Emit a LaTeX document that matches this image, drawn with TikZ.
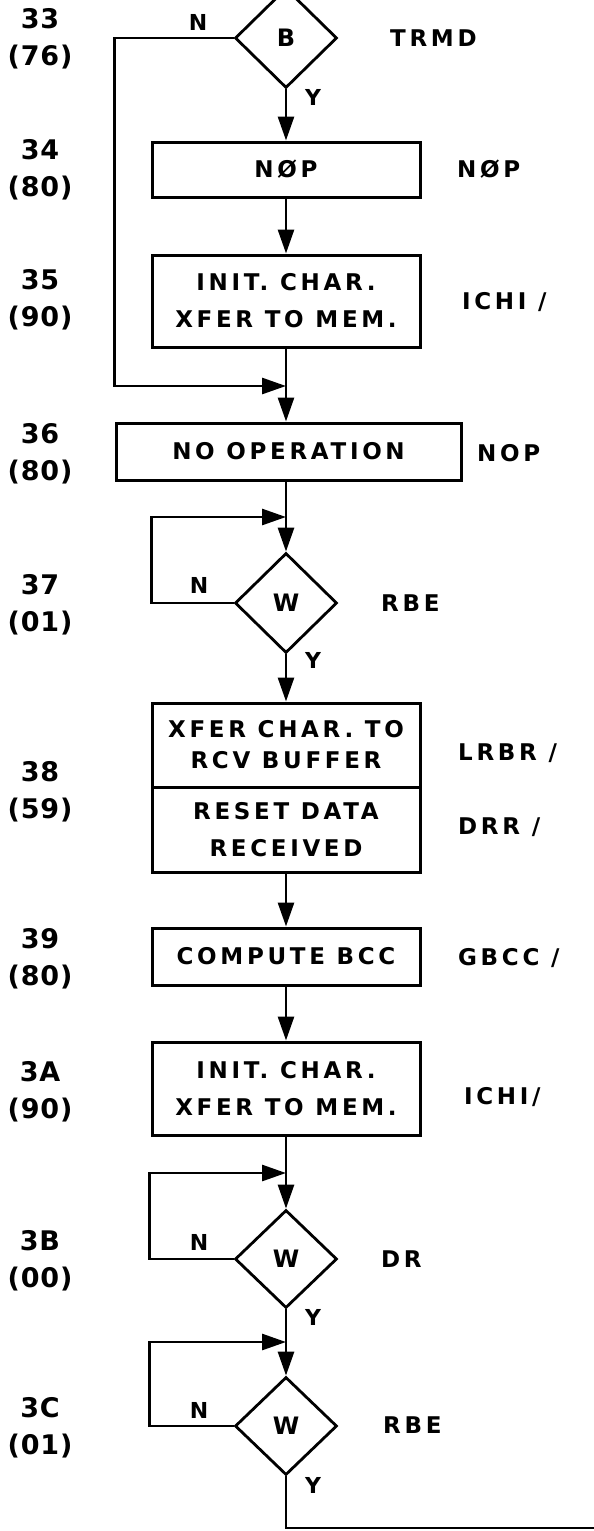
\documentclass[tikz,border=0pt]{standalone}
\usepackage{fontspec}
\setmainfont{DejaVu Sans}[LetterSpace=16]
\usetikzlibrary{arrows.meta,shapes.geometric}

\begin{document}
\begin{tikzpicture}[x=1pt,y=1pt,>={Triangle[length=24pt,width=16pt]},
    box/.style={draw,line width=3pt,minimum width=268pt,inner sep=0pt,align=center,
      font=\bfseries\fontsize{23}{37}\selectfont},
    test/.style={draw,diamond,aspect=1,line width=2.8pt,minimum width=102pt,minimum height=100pt,
      inner sep=0pt,font=\bfseries\fontsize{24}{26}\selectfont},
    flow/.style={line width=2.8pt},
    addr/.style={align=center,font={\bfseries\fontsize{27}{37}\selectfont\addfontfeature{LetterSpace=3}}},
    mnem/.style={anchor=west,inner sep=0pt,font=\bfseries\fontsize{23}{26}\selectfont},
    yn/.style={inner sep=0pt,font=\bfseries\fontsize{22}{24}\selectfont}]
  \useasboundingbox (0,0) rectangle (594,-1531);

  % steps of the sequence
  \node[test] (d33) at (286,-38) {B};
  \node[box,minimum height=55pt] (b34) at (286,-169.5) {NØP};
  \node[box,minimum height=92pt] (b35) at (286,-301) {INIT. CHAR.\\XFER TO MEM.};
  \node[box,minimum width=345pt,minimum height=57pt] (b36) at (288.5,-451.5) {NO OPERATION};
  \node[test] (d37) at (286,-603) {W};
  \node[box,minimum height=84pt,font=\bfseries\fontsize{23}{31}\selectfont] (b38a) at (286,-745) {XFER CHAR. TO\\RCV BUFFER};
  \node[box,minimum height=85pt] (b38b) at (286,-829.5) {RESET DATA\\RECEIVED};
  \node[box,minimum height=57pt] (b39) at (286,-956.5) {COMPUTE BCC};
  \node[box,minimum height=93pt] (b3A) at (286,-1088.5) {INIT. CHAR.\\XFER TO MEM.};
  \node[test,minimum height=98pt] (d3B) at (286,-1259) {W};
  \node[test,minimum height=98pt] (d3C) at (286,-1426) {W};

  \coordinate (j36) at (286,-386);
  \coordinate (j37) at (286,-517);
  \coordinate (j3B) at (286,-1173);
  \coordinate (j3C) at (286,-1342);
  \coordinate (out) at (594,-1528);

  % addresses
  \node[addr] (a33) at (40,-38.5) {33\\(76)};
  \node[addr] (a34) at (40,-169.5) {34\\(80)};
  \node[addr] (a35) at (40,-300) {35\\(90)};
  \node[addr] (a36) at (40,-454) {36\\(80)};
  \node[addr] (a37) at (40,-605) {37\\(01)};
  \node[addr] (a38) at (40,-791.5) {38\\(59)};
  \node[addr] (a39) at (40,-958.5) {39\\(80)};
  \node[addr] (a3A) at (40,-1091.5) {3A\\(90)};
  \node[addr] (a3B) at (40,-1261) {3B\\(00)};
  \node[addr] (a3C) at (40,-1427.5) {3C\\(01)};

  % mnemonics
  \node[mnem] (m33) at (390,-38) {TRMD};
  \node[mnem] (m34) at (457,-169) {NØP};
  \node[mnem] (m35) at (462,-302) {ICHI /};
  \node[mnem] (m36) at (477,-453) {NOP};
  \node[mnem] (m37) at (381,-603) {RBE};
  \node[mnem] (m38a) at (458,-753) {LRBR /};
  \node[mnem] (m38b) at (458,-827) {DRR /};
  \node[mnem] (m39) at (458,-958) {GBCC /};
  \node[mnem] (m3A) at (464,-1097) {ICHI/};
  \node[mnem] (m3B) at (381,-1259) {DR};
  \node[mnem] (m3C) at (383,-1425) {RBE};

  % branch letters
  \node[yn] (n33) at ([shift={(-88,16)}]d33.center) {N};
  \node[yn] (y33) at ([shift={(27,-8)}]d33.south) {Y};
  \node[yn] (n37) at ([shift={(-87,18)}]d37.center) {N};
  \node[yn] (y37) at ([shift={(27,-6)}]d37.south) {Y};
  \node[yn] (n3B) at ([shift={(-87,17)}]d3B.center) {N};
  \node[yn] (y3B) at ([shift={(27,-8)}]d3B.south) {Y};
  \node[yn] (n3C) at ([shift={(-87,16)}]d3C.center) {N};
  \node[yn] (y3C) at ([shift={(27,-9)}]d3C.south) {Y};

  % connectors
  \draw[flow,->] (d33.south) -- (b34.north);
  \draw[flow,->] (b34.south) -- (b35.north);
  \draw[flow,->] (b35.south) -- (b35.south |- b36.north);
  \draw[flow,->] (d33.west) -- ++(-119,0) |- (j36);
  \draw[flow,->] (b36.south -| j36) -- (d37.north);
  \draw[flow,->] (d37.west) -- ++(-82,0) |- (j37);
  \draw[flow,->] (d37.south) -- (b38a.north);
  \draw[flow,->] (b38b.south) -- (b39.north);
  \draw[flow,->] (b39.south) -- (b3A.north);
  \draw[flow,->] (b3A.south) -- (d3B.north);
  \draw[flow,->] (d3B.west) -- ++(-84,0) |- (j3B);
  \draw[flow,->] (d3B.south) -- (d3C.north);
  \draw[flow,->] (d3C.west) -- ++(-84,0) |- (j3C);
  \draw[flow] (d3C.south) |- (out);
\end{tikzpicture}
\end{document}
